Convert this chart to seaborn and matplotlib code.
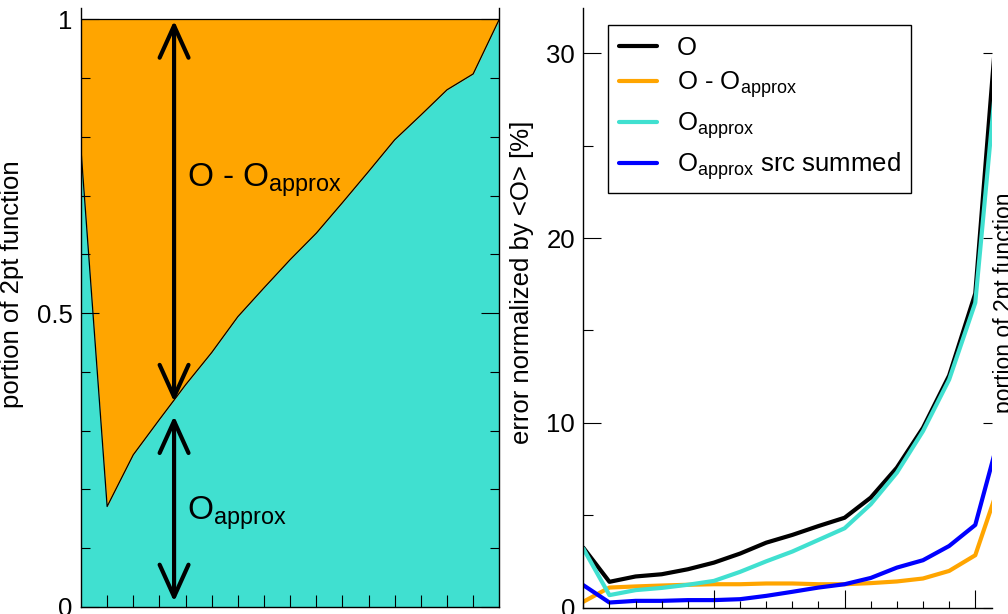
import numpy as np
import pandas as pd
import matplotlib
matplotlib.use("Agg")
import matplotlib.pyplot as plt
from matplotlib.ticker import MultipleLocator, FixedLocator
import seaborn as sns

# source-sink separation index
t = list(range(17))

# fraction of the 2pt function carried by O_approx (the rest is O - O_approx)
portion_approx = [0.778, 0.171, 0.259, 0.319, 0.378, 0.433, 0.494, 0.543, 0.591,
                  0.636, 0.688, 0.741, 0.795, 0.837, 0.880, 0.907, 1.0]

# relative errors in percent
err_O = [3.24, 1.39, 1.68, 1.80, 2.07, 2.43, 2.92, 3.51, 3.93, 4.41, 4.86, 5.95,
         7.57, 9.73, 12.56, 17.0, 34.8]
err_diff = [0.31, 1.08, 1.14, 1.19, 1.23, 1.26, 1.26, 1.30, 1.30, 1.26, 1.26, 1.32,
            1.41, 1.57, 1.98, 2.83, 7.0]
err_approx = [3.19, 0.67, 0.94, 1.06, 1.23, 1.44, 1.93, 2.50, 3.03, 3.66, 4.29, 5.59,
              7.30, 9.55, 12.34, 16.5, 31.7]
err_summed = [1.21, 0.27, 0.36, 0.36, 0.40, 0.40, 0.45, 0.63, 0.85, 1.08, 1.26, 1.60,
              2.16, 2.56, 3.33, 4.47, 9.7]

series_labels = ["O",
                 r"O - $\mathregular{O_{approx}}$",
                 r"$\mathregular{O_{approx}}$",
                 r"$\mathregular{O_{approx}}$ src summed"]
series_colors = ["#000000", "#FFA500", "#40E0D0", "#0000FF"]

sns.set_theme(style="ticks")
plt.rcParams["font.family"] = ["Liberation Sans", "DejaVu Sans"]
plt.rcParams.update({
    "axes.linewidth": 1.0,
    "axes.edgecolor": "black",
    "axes.labelcolor": "black",
    "text.color": "black",
    "xtick.color": "black",
    "ytick.color": "black",
    "axes.axisbelow": False,
})

W, H = 1008, 614
fig = plt.figure(figsize=(W / 100, H / 100), dpi=100)


def px_axes(left, right, top, bottom):
    return fig.add_axes([left / W, 1 - bottom / H, (right - left) / W, (bottom - top) / H])


FS = 18.5
TURQ, ORANGE = "#40E0D0", "#FFA500"

# ---------------- left panel: stacked portions ----------------
ax1 = px_axes(81, 499.3, 8.3, 607)
ax1.set_axisbelow(False)
ones = np.ones(len(t))
ax1.fill_between(t, 0, portion_approx, color=TURQ, lw=0)
ax1.fill_between(t, portion_approx, ones, color=ORANGE, lw=0)
sns.lineplot(x=t, y=portion_approx, color="black", lw=0.9, ax=ax1)
sns.lineplot(x=t, y=ones, color="black", lw=0.9, ax=ax1)
ax1.set_xlim(0, 16)
ax1.set_ylim(0, 1.0187)

ax1.set_yticks([0, 0.5, 1])
ax1.set_yticklabels(["0", "0.5", "1"])
ax1.yaxis.set_minor_locator(MultipleLocator(0.1))
ax1.xaxis.set_major_locator(FixedLocator(range(1, 16)))
ax1.tick_params(axis="y", which="major", direction="in", length=13, width=0.8,
                left=True, right=True, pad=6, labelsize=FS)
ax1.tick_params(axis="y", which="minor", direction="in", length=6.5, width=0.8,
                left=True, right=True)
ax1.tick_params(axis="x", which="major", direction="in", length=9, width=0.8,
                bottom=True, top=False, labelbottom=False)
ax1.spines["top"].set_visible(False)
ax1.set_ylabel("portion of 2pt function", fontsize=FS)
ax1.yaxis.set_label_coords(-0.1363, 0.540)

arrow_style = dict(arrowstyle="<->,head_length=1.15,head_width=0.52", lw=3,
                   color="black", mutation_scale=20, shrinkA=0, shrinkB=0)
ax1.annotate("", xy=(3.56, 0.9976), xytext=(3.56, 0.349), arrowprops=arrow_style)
ax1.annotate("", xy=(3.56, 0.325), xytext=(3.56, 0.009), arrowprops=arrow_style)
ax1.text(4.06, 0.715, r"O - $\mathregular{O_{approx}}$", fontsize=24,
         ha="left", va="baseline")
ax1.text(4.06, 0.148, r"$\mathregular{O_{approx}}$", fontsize=24,
         ha="left", va="baseline")

# ---------------- middle panel: relative errors ----------------
ax2 = px_axes(583.3, 992, 8.3, 607.5)
ax2.set_axisbelow(False)
df = pd.DataFrame({
    "t": t * 4,
    "err": err_O + err_diff + err_approx + err_summed,
    "series": sum([[lab] * len(t) for lab in series_labels], []),
})
sns.lineplot(data=df, x="t", y="err", hue="series", hue_order=series_labels,
             palette=series_colors, lw=3, ax=ax2)
ax2.set_xlim(0, 15.64)
ax2.set_ylim(0, 32.44)
ax2.set_xlabel("")
ax2.set_ylabel("error normalized by <O> [%]", fontsize=FS)
ax2.yaxis.set_label_coords(-0.1218, 0.5432)

ax2.set_yticks([0, 10, 20, 30])
ax2.yaxis.set_minor_locator(MultipleLocator(5))
ax2.set_xticks([5, 10, 15])
ax2.xaxis.set_minor_locator(MultipleLocator(1))
ax2.tick_params(axis="y", which="major", direction="in", length=13, width=0.8,
                left=True, right=False, pad=6, labelsize=FS)
ax2.tick_params(axis="y", which="minor", direction="in", length=7, width=0.8,
                left=True, right=False)
ax2.tick_params(axis="x", which="major", direction="in", length=13, width=0.8,
                bottom=True, labelbottom=False)
ax2.tick_params(axis="x", which="minor", direction="in", length=5, width=0.8,
                bottom=True)
ax2.spines["top"].set_visible(False)
ax2.spines["right"].set_visible(False)

sec = ax2.secondary_yaxis("right")
sec.set_yticks([0, 10, 20, 30])
sec.tick_params(direction="in", length=6.5, width=0.8, labelright=False)
sec.spines["right"].set_visible(False)

handles, labels = ax2.get_legend_handles_labels()
leg = ax2.legend(handles, labels, loc="upper left",
                 bbox_to_anchor=(608 / W, 1 - 25 / H), bbox_transform=fig.transFigure,
                 borderaxespad=0, frameon=True, fancybox=False, edgecolor="black",
                 framealpha=1, fontsize=FS, handlelength=1.5, handletextpad=0.75,
                 labelspacing=0.38, borderpad=0.42)
leg.get_frame().set_linewidth(1.0)
for line in leg.get_lines():
    line.set_linewidth(3)

# label of the neighbouring panel at the right edge
fig.text(993 / W, 1 - 303 / H, "portion of 2pt function", rotation=90,
         fontsize=16.5, ha="left", va="center")

fig.savefig("out.png", dpi=100)
